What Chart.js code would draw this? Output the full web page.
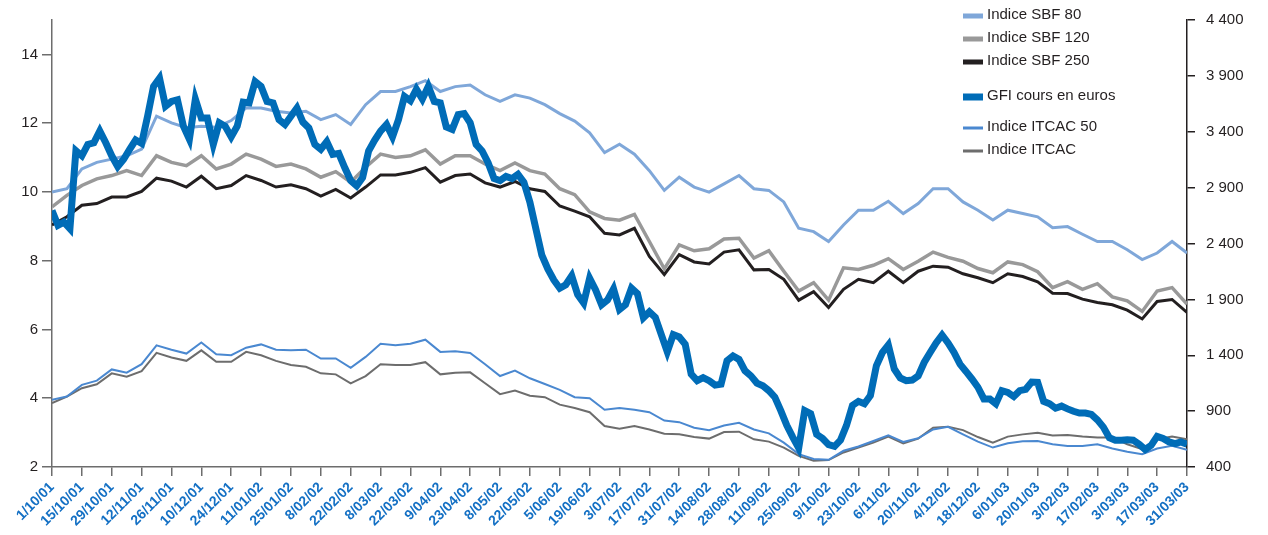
<!DOCTYPE html>
<html>
<head>
<meta charset="utf-8">
<script src="https://cdn.jsdelivr.net/npm/chart.js@4.4.1/dist/chart.umd.min.js"></script>
<style>
  html, body { margin: 0; padding: 0; background: #fff; }
  #wrap { width: 1268px; height: 535px; }
</style>
</head>
<body>
<div id="wrap"><canvas id="gfiChart" width="1268" height="535"></canvas></div>
<script>
// x tick labels, one every 10 trading days
const dateLabels = [
  '1/10/01', '15/10/01', '29/10/01', '12/11/01', '26/11/01', '10/12/01', '24/12/01',
  '11/01/02', '25/01/02', '8/02/02', '22/02/02', '8/03/02', '22/03/02', '9/04/02',
  '23/04/02', '8/05/02', '22/05/02', '5/06/02', '19/06/02', '3/07/02', '17/07/02',
  '31/07/02', '14/08/02', '28/08/02', '11/09/02', '25/09/02', '9/10/02', '23/10/02',
  '6/11/02', '20/11/02', '4/12/02', '18/12/02', '6/01/03', '20/01/03', '3/02/03',
  '17/02/03', '3/03/03', '17/03/03', '31/03/03'
];

// readings: indices every 5 trading days, GFI every 2
const INDEX_STEP = 5;
const GFI_STEP = 2;

const sbf80 = [
  2860, 2890, 3067, 3126, 3155, 3185, 3244, 3539, 3480, 3436, 3450, 3440, 3500,
  3613, 3613, 3583, 3568, 3583, 3509, 3554, 3465, 3642, 3760, 3760, 3804, 3857,
  3760, 3804, 3819, 3731, 3672, 3731, 3701, 3642, 3562, 3495, 3391, 3214,
  3288, 3199, 3052, 2875, 2993, 2905, 2860, 2934, 3008, 2890, 2875, 2772, 2536,
  2506, 2418, 2565, 2698, 2698, 2778, 2668, 2757, 2890, 2890, 2772, 2698, 2610,
  2698, 2668, 2639, 2542, 2551, 2483, 2418, 2418, 2344, 2256, 2315, 2418, 2315
];
const sbf120 = [
  2728, 2831, 2919, 2978, 3008, 3052, 3008, 3185, 3126, 3096, 3185, 3067, 3111,
  3200, 3155, 3090, 3111, 3067, 2993, 3043, 2949, 3082, 3200, 3170, 3185, 3238,
  3111, 3185, 3185, 3111, 3052, 3120, 3052, 3022, 2890, 2837, 2683, 2624,
  2609, 2660, 2418, 2173, 2388, 2335, 2353, 2441, 2447, 2270, 2335, 2152, 1975,
  2049, 1893, 2182, 2167, 2205, 2264, 2167, 2241, 2323, 2276, 2241, 2176, 2138,
  2235, 2211, 2147, 2005, 2058, 1990, 2040, 1922, 1887, 1792, 1975, 2005, 1857
];
const sbf250 = [
  2565, 2639, 2742, 2757, 2816, 2816, 2866, 2984, 2958, 2905, 3002, 2890, 2919,
  3008, 2964, 2905, 2925, 2890, 2825, 2884, 2807, 2905, 3014, 3014, 3037, 3079,
  2949, 3008, 3022, 2943, 2905, 2955, 2890, 2866, 2736, 2689, 2639, 2492,
  2477, 2536, 2285, 2123, 2300, 2235, 2217, 2323, 2344, 2164, 2167, 2079, 1893,
  1969, 1828, 1990, 2079, 2049, 2152, 2049, 2152, 2197, 2188, 2129, 2093, 2049,
  2129, 2105, 2058, 1955, 1952, 1902, 1872, 1852, 1804, 1725, 1881, 1899, 1783
];
const itcac50 = [
  1002, 1031, 1135, 1173, 1273, 1244, 1320, 1489, 1450, 1415, 1515, 1409, 1400,
  1468, 1497, 1450, 1444, 1450, 1371, 1371, 1288, 1385, 1503, 1489, 1503, 1539,
  1430, 1436, 1421, 1320, 1214, 1262, 1194, 1143, 1090, 1025, 1016, 913,
  928, 913, 890, 816, 801, 751, 730, 772, 795, 736, 701, 618, 515,
  471, 465, 545, 583, 633, 683, 624, 657, 736, 760, 692, 627, 574,
  612, 630, 633, 604, 589, 589, 604, 565, 536, 515, 565, 589, 553
];
const itcac = [
  972, 1031, 1105, 1140, 1238, 1208, 1258, 1421, 1380, 1350, 1444, 1341, 1341,
  1430, 1400, 1350, 1312, 1297, 1238, 1229, 1149, 1214, 1320, 1312, 1312, 1338,
  1229, 1244, 1247, 1149, 1052, 1084, 1037, 1025, 958, 928, 890, 766,
  742, 766, 736, 698, 692, 668, 654, 713, 716, 648, 627, 574, 500,
  456, 462, 530, 574, 618, 672, 612, 654, 751, 760, 730, 668, 618,
  672, 692, 707, 683, 686, 672, 663, 663, 604, 559, 648, 672, 648
];
// GFI share price in euros (left axis)
const gfi = [
  9.46, 9.03, 9.12, 8.93, 11.2, 11.05, 11.38, 11.43, 11.77, 11.43, 11.05, 10.74,
  10.95, 11.24, 11.51, 11.41, 12.20, 13.07, 13.31, 12.49, 12.63, 12.68, 11.91, 11.53,
  12.70, 12.15, 12.15, 11.38, 12.01, 11.91, 11.60, 11.91, 12.61, 12.59, 13.21, 13.07,
  12.63, 12.59, 12.10, 11.96, 12.20, 12.44, 12.03, 11.86, 11.38, 11.24, 11.46, 11.09,
  11.12, 10.71, 10.33, 10.18, 10.42, 11.19, 11.50, 11.77, 11.96, 11.60, 12.10, 12.78,
  12.65, 12.99, 12.70, 13.07, 12.63, 12.59, 11.89, 11.82, 12.25, 12.28, 12.01, 11.38,
  11.19, 10.85, 10.39, 10.33, 10.45, 10.39, 10.51, 10.28, 9.70, 8.93, 8.16, 7.76,
  7.44, 7.20, 7.30, 7.56, 7.01, 6.77, 7.49, 7.15, 6.72, 6.86, 7.18, 6.58,
  6.72, 7.20, 7.04, 6.34, 6.51, 6.35, 5.85, 5.35, 5.85, 5.78, 5.57, 4.70,
  4.51, 4.60, 4.51, 4.38, 4.41, 5.09, 5.23, 5.13, 4.80, 4.65, 4.44, 4.36,
  4.22, 4.03, 3.64, 3.21, 2.87, 2.55, 3.64, 3.55, 2.95, 2.83, 2.65, 2.60,
  2.78, 3.21, 3.79, 3.91, 3.84, 4.08, 4.94, 5.33, 5.55, 4.85, 4.59, 4.51,
  4.53, 4.65, 5.04, 5.33, 5.61, 5.84, 5.61, 5.33, 4.99, 4.78, 4.56, 4.32,
  3.98, 3.98, 3.84, 4.22, 4.17, 4.05, 4.22, 4.26, 4.47, 4.46, 3.91, 3.84,
  3.71, 3.77, 3.69, 3.62, 3.57, 3.57, 3.53, 3.37, 3.16, 2.85, 2.78, 2.78,
  2.79, 2.78, 2.66, 2.51, 2.63, 2.89, 2.83, 2.73, 2.68, 2.73, 2.66
];

const FONT = '"Liberation Sans", Arial, Helvetica, sans-serif';
Chart.defaults.font.family = FONT;

function toPoints(values, step) {
  return values.map((v, i) => ({ x: i * step, y: v }));
}

function spaced(n) {
  return String(n).replace(/\B(?=(\d{3})+(?!\d))/g, ' ');
}

function indexLine(label, values, color, width) {
  return {
    label: label,
    data: toPoints(values, INDEX_STEP),
    yAxisID: 'y1',
    borderColor: color,
    backgroundColor: color,
    borderWidth: width,
    pointRadius: 0,
    tension: 0
  };
}

const datasets = [
  indexLine('Indice SBF 80', sbf80, '#7fa7d9', 3),
  indexLine('Indice SBF 120', sbf120, '#999999', 3.5),
  indexLine('Indice SBF 250', sbf250, '#231f20', 3),
  {
    label: 'GFI cours en euros',
    data: toPoints(gfi, GFI_STEP),
    yAxisID: 'y',
    borderColor: '#006cb7',
    backgroundColor: '#006cb7',
    borderWidth: 7,
    pointRadius: 0,
    tension: 0,
    order: -1
  },
  indexLine('Indice ITCAC 50', itcac50, '#4a88d0', 2),
  indexLine('Indice ITCAC', itcac, '#6d6d6d', 2)
];

// legend drawn on the right, like the printed one
const legendRows = [
  { y: 16, h: 5 }, { y: 39, h: 5 }, { y: 62, h: 5 },
  { y: 97, h: 7 }, { y: 128, h: 3 }, { y: 151, h: 3 }
];
const sideLegend = {
  id: 'sideLegend',
  afterDraw(chart) {
    const ctx = chart.ctx;
    ctx.save();
    ctx.font = '15px ' + FONT;
    ctx.textBaseline = 'middle';
    chart.data.datasets.forEach((ds, i) => {
      const row = legendRows[i];
      ctx.fillStyle = ds.borderColor;
      ctx.fillRect(963, row.y - row.h / 2, 20, row.h);
      ctx.fillStyle = '#231f20';
      ctx.fillText(ds.label, 987, row.y - 1);
    });
    ctx.restore();
  }
};

new Chart(document.getElementById('gfiChart'), {
  type: 'line',
  data: { datasets: datasets },
  plugins: [sideLegend],
  options: {
    responsive: false,
    animation: false,
    devicePixelRatio: 1,
    layout: { padding: { top: 16 } },
    plugins: { legend: { display: false }, tooltip: { enabled: false } },
    scales: {
      x: {
        type: 'linear',
        min: 0,
        max: (dateLabels.length - 1) * 10,
        afterBuildTicks: (axis) => {
          axis.ticks = dateLabels.map((_, i) => ({ value: i * 10 }));
        },
        afterFit: (axis) => { axis.height = 68; },
        ticks: {
          autoSkip: false,
          maxRotation: 45,
          minRotation: 45,
          padding: 3,
          color: '#1470c4',
          font: { size: 14, weight: 'bold' },
          callback: (v) => dateLabels[Math.round(v / 10)]
        },
        grid: { drawOnChartArea: false, tickLength: 9, color: '#6d6d6d', lineWidth: 1.5 },
        border: { color: '#6d6d6d', width: 1.5 }
      },
      y: {
        position: 'left',
        min: 2,
        max: 15,
        afterBuildTicks: (axis) => {
          axis.ticks = [2, 4, 6, 8, 10, 12, 14].map(v => ({ value: v }));
        },
        afterFit: (axis) => { axis.width = 52; },
        ticks: { color: '#231f20', font: { size: 15 }, padding: 4 },
        grid: { drawOnChartArea: false, tickLength: 10, color: '#6d6d6d', lineWidth: 1.5 },
        border: { color: '#6d6d6d', width: 1.5 }
      },
      y1: {
        position: 'right',
        min: 400,
        max: 4400,
        afterFit: (axis) => { axis.width = 81; },
        ticks: {
          stepSize: 500,
          color: '#231f20',
          font: { size: 15 },
          padding: 11,
          callback: (v) => spaced(v)
        },
        grid: { drawOnChartArea: false, tickLength: 8, color: '#231f20', lineWidth: 1.5 },
        border: { color: '#231f20', width: 1.5 }
      }
    }
  }
});
</script>
</body>
</html>
